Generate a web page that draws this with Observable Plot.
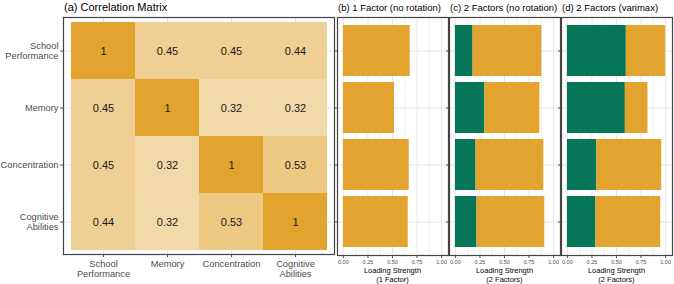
<!DOCTYPE html>
<html><head><meta charset="utf-8">
<script src="https://cdn.jsdelivr.net/npm/d3@7"></script>
<script src="https://cdn.jsdelivr.net/npm/@observablehq/plot@0.6"></script>
<style>
body{margin:0;background:#fff;font-family:"Liberation Sans",Arial,sans-serif;}
#wrap{position:relative;width:674px;height:284px;overflow:hidden;background:#fff;}
#wrap svg{position:absolute;top:0;overflow:visible;}
.ttl{position:absolute;white-space:nowrap;color:#000;}
.xl{position:absolute;text-align:center;color:#000;font-size:7.5px;line-height:9px;white-space:nowrap;}
</style></head><body><div id="wrap"></div>
<script>
// ---- data ----
const variables = ["School\nPerformance", "Memory", "Concentration", "Cognitive\nAbilities"];
const corrSchool = [1, 0.45, 0.45, 0.44];
const corrMemory = [0.45, 1, 0.32, 0.32];
const corrConcentration = [0.45, 0.32, 1, 0.53];
const corrCognitive = [0.44, 0.32, 0.53, 1];
const oneFactorF1 = [0.68, 0.52, 0.67, 0.66];
const noRotF1 = [0.70, 0.56, 0.69, 0.69];
const noRotF2 = [0.18, 0.30, 0.21, 0.22];
const varimaxF1 = [0.40, 0.23, 0.66, 0.66];
const varimaxF2 = [0.60, 0.59, 0.30, 0.29];
const xTicks = [0, 0.25, 0.5, 0.75, 1];
const xMinor = [0.125, 0.375, 0.625, 0.875];
const factors = ["Factor 1", "Factor 2"];
const titles = ["(a) Correlation Matrix", "(b) 1 Factor (no rotation)", "(c) 2 Factors (no rotation)", "(d) 2 Factors (varimax)"];
const xLabels = ["Loading Strength\n(1 Factor)", "Loading Strength\n(2 Factors)", "Loading Strength\n(2 Factors)"];

const ORANGE = "#E2A32F", GREEN = "#067659";
const FONT = "'Liberation Sans', Arial, sans-serif";
const wrap = document.getElementById("wrap");

// ---- heatmap ----
const corr = [corrSchool, corrMemory, corrConcentration, corrCognitive];
const cells = [];
variables.forEach((r, i) => variables.forEach((c, j) => cells.push({row: r, col: c, value: corr[i][j]})));

const heat = Plot.plot({
  width: 336, height: 284,
  marginTop: 17, marginBottom: 30, marginLeft: 63, marginRight: 2,
  style: {fontFamily: FONT, background: "transparent"},
  x: {domain: variables, range: [70, 328], padding: 0, label: null},
  y: {domain: variables, range: [21.5, 249.5], padding: 0, label: null},
  color: {type: "linear", domain: [0, 1], range: ["#FAF3E4", ORANGE]},
  marks: [
    Plot.gridX({stroke: "#e6e6e6", strokeOpacity: 1}),
    Plot.gridY({stroke: "#e6e6e6", strokeOpacity: 1}),
    Plot.cell(cells, {x: "col", y: "row", fill: "value", inset: 0}),
    Plot.text(cells, {x: "col", y: "row", text: d => String(d.value), fontSize: 11, fill: "#1a1a1a"}),
    Plot.frame({stroke: "#444", strokeWidth: 1.2}),
    Plot.axisX({tickSize: 3, tickPadding: 2, fontSize: 9.3, color: "#4d4d4d", lineHeight: 1.08}),
    Plot.axisY({tickSize: 3, tickPadding: 2, fontSize: 9.3, color: "#4d4d4d", lineHeight: 1.08})
  ]
});
heat.style.left = "0px";
wrap.appendChild(heat);

// ---- loading bars ----
function rows(f1, f2) {
  const out = [];
  if (f2) variables.forEach((v, i) => out.push({variable: v, factor: "Factor 2", value: f2[i]}));
  variables.forEach((v, i) => out.push({variable: v, factor: "Factor 1", value: f1[i]}));
  return out;
}
const panels = [
  {data: rows(oneFactorF1), frameLeft: 337},
  {data: rows(noRotF1, noRotF2), frameLeft: 449},
  {data: rows(varimaxF1, varimaxF2), frameLeft: 561}
];
panels.forEach((p, k) => {
  const svg = Plot.plot({
    width: 117, height: 284,
    marginTop: 17, marginBottom: 29, marginLeft: 4, marginRight: 2,
    style: {fontFamily: FONT, background: "transparent"},
    x: {domain: [-0.06, 1.07], label: null},
    y: {domain: variables, range: [21.5, 249.5], padding: 0, label: null},
    color: {domain: factors, range: [ORANGE, GREEN]},
    marks: [
      Plot.gridX({ticks: xMinor, stroke: "#f1f1f1", strokeOpacity: 1}),
      Plot.gridX({ticks: xTicks, stroke: "#e6e6e6", strokeOpacity: 1}),
      Plot.gridY({stroke: "#e6e6e6", strokeOpacity: 1}),
      Plot.barX(p.data, Plot.stackX({x: "value", y: "variable", fill: "factor", insetTop: 3, insetBottom: 3})),
      Plot.frame({stroke: "#444", strokeWidth: 1.2}),
      Plot.axisX({ticks: xTicks, tickFormat: d3.format(".2f"), tickSize: 3, tickPadding: 1.5, fontSize: 5.5, color: "#4d4d4d"}),
      Plot.axisY({tickSize: 3, tickFormat: () => "", color: "#4d4d4d"})
    ]
  });
  svg.style.left = (p.frameLeft - 4) + "px";
  wrap.appendChild(svg);
  const lab = document.createElement("div");
  lab.className = "xl";
  lab.style.left = p.frameLeft + "px";
  lab.style.width = "111px";
  lab.style.top = "266px";
  lab.innerHTML = xLabels[k].split("\n").join("<br>");
  wrap.appendChild(lab);
});

// ---- titles ----
const tpos = [{left: 64, size: 11}, {left: 338, size: 9.5}, {left: 450, size: 9.5}, {left: 562, size: 9.5}];
titles.forEach((t, i) => {
  const d = document.createElement("div");
  d.className = "ttl";
  d.textContent = t;
  d.style.left = tpos[i].left + "px";
  d.style.fontSize = tpos[i].size + "px";
  d.style.lineHeight = tpos[i].size + "px";
  d.style.top = (7.5 - tpos[i].size / 2) + "px";
  wrap.appendChild(d);
});
</script></body></html>
